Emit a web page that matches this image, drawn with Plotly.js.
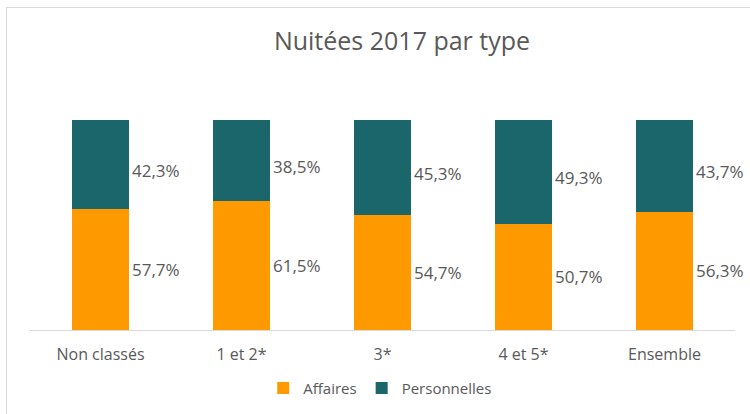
<!DOCTYPE html>
<html><head><meta charset="utf-8">
<script src="https://cdn.plot.ly/plotly-3.0.1.min.js"></script>
<style>
html,body{margin:0;padding:0;overflow:hidden;background:#fff;}
#frame{position:absolute;left:6px;top:7px;width:900px;height:600px;border:1px solid #d9d9d9;pointer-events:none;}
</style></head>
<body>
<div id="chart" style="width:750px;height:414px;"></div>
<div id="frame"></div>
<script>
const categories = ["Non classés", "1 et 2*", "3*", "4 et 5*", "Ensemble"];
const affaires = [57.7, 61.5, 54.7, 50.7, 56.3];
const personnelles = [42.3, 38.5, 45.3, 49.3, 43.7];
const affairesLabels = ["57,7%", "61,5%", "54,7%", "50,7%", "56,3%"];
const personnellesLabels = ["42,3%", "38,5%", "45,3%", "49,3%", "43,7%"];

const orange = "#FF9900";
const teal = "#1B666A";
const grey = "#595959";
const fam = "Open Sans, sans-serif";

const traces = [
  {type: "bar", name: "Affaires", x: categories, y: affaires, marker: {color: orange}, width: 0.4, hoverinfo: "none"},
  {type: "bar", name: "Personnelles", x: categories, y: personnelles, marker: {color: teal}, width: 0.4, hoverinfo: "none"}
];

const annotations = [];
categories.forEach((c, i) => {
  annotations.push({x: c, y: affaires[i] / 2, text: affairesLabels[i], showarrow: false, xanchor: "left", xshift: 29,
    font: {family: fam, size: 17, color: grey}});
  annotations.push({x: c, y: affaires[i] + personnelles[i] / 2, text: personnellesLabels[i], showarrow: false, xanchor: "left", xshift: 29, yshift: -6,
    font: {family: fam, size: 17, color: grey}});
});

const layout = {
  width: 750, height: 414,
  margin: {l: 30, r: 15, t: 120, b: 84, autoexpand: false},
  barmode: "stack",
  paper_bgcolor: "#fff", plot_bgcolor: "#fff",
  title: {text: "Nuitées 2017 par type", x: 0.536, xanchor: "center", y: 0.9, yanchor: "middle",
    font: {family: fam, size: 25, color: grey}},
  xaxis: {range: [-0.5, 4.5], showgrid: false, showline: true, linecolor: "#d9d9d9", linewidth: 1, ticks: "", ticklabelstandoff: 10, automargin: false,
    tickfont: {family: fam, size: 16, color: grey}, fixedrange: true},
  yaxis: {range: [0, 100], visible: false, showgrid: false, zeroline: false, fixedrange: true, automargin: false},
  showlegend: true,
  legend: {orientation: "h", xref: "container", yref: "container", x: 0.507, xanchor: "center", y: 0.062, yanchor: "middle",
    font: {family: fam, size: 15, color: grey}, itemwidth: 30, traceorder: "normal"},
  annotations: annotations
};

Plotly.newPlot("chart", traces, layout, {displayModeBar: false, staticPlot: true});
</script>
</body></html>
